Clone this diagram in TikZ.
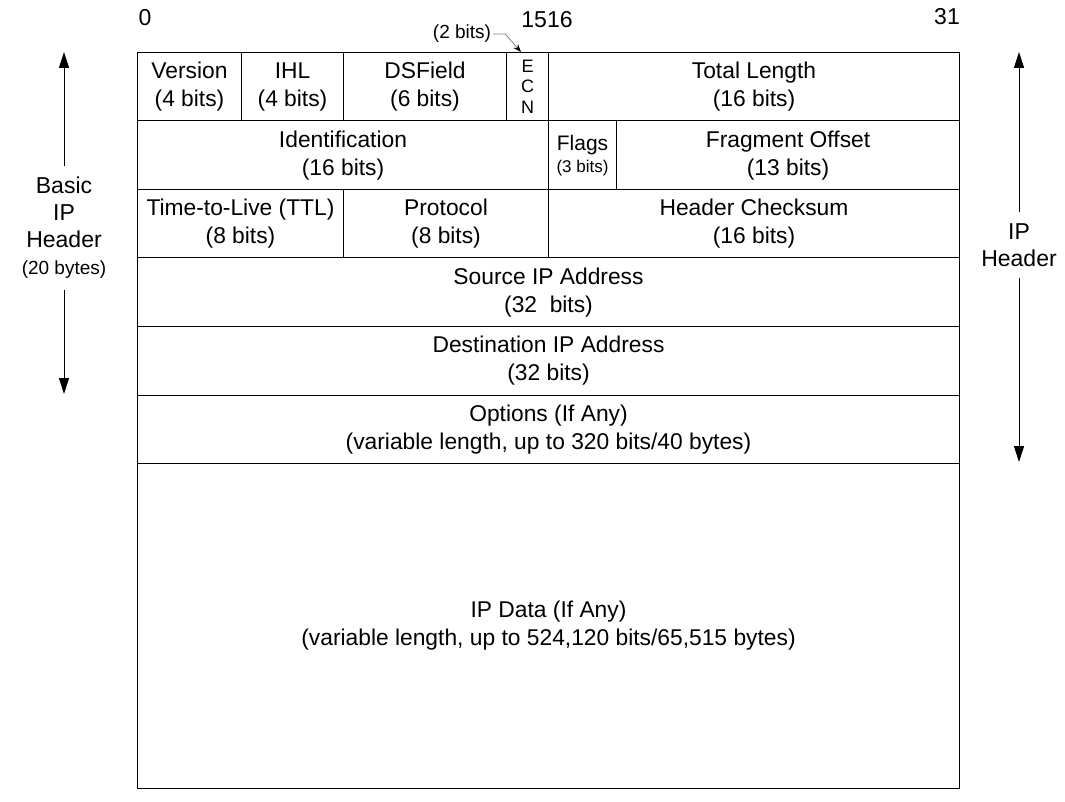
\documentclass[tikz,border=0pt]{standalone}
\usepackage{fontspec}
\setmainfont{Liberation Sans}
\usetikzlibrary{arrows.meta}
\begin{document}
\begin{tikzpicture}[x=1pt,y=-1pt,
  field/.style={draw, line width=1pt, inner sep=0pt, align=center,
    font=\fontsize{22.8}{28}\selectfont, anchor=north west, minimum height=68.5pt},
  lbl/.style={inner sep=0pt, font=\fontsize{23}{26}\selectfont},
  side/.style={inner xsep=0pt, inner ysep=11pt, align=center, font=\fontsize{23}{27}\selectfont},
  bigarr/.style={line width=1pt, -{Triangle[length=16pt,width=10pt]}},
  note/.style={draw=gray, line width=0.8pt, -{Stealth[length=8pt,width=6pt,color=black]}}
]
\useasboundingbox (0,0) rectangle (1065,802);
% bit labels
\node[lbl] (b0) at (145,18) {0};
\node[lbl] (b1516) at (547,20) {1516};
\node[lbl] (b31) at (947,17) {31};
% row 1
\node[field, minimum width=104pt] (ver) at (137,52) {Version\\(4 bits)};
\node[field, minimum width=102pt] (ihl) at (241,52) {IHL\\(4 bits)};
\node[field, minimum width=163pt] (dsf) at (343,52) {DSField\\(6 bits)};
\node[field, minimum width=42pt, font=\fontsize{18}{20.5}\selectfont] (ecn) at (506,52) {E\\C\\N};
\node[field, minimum width=411pt] (tl) at (548,52) {Total Length\\(16 bits)};
% row 2
\node[field, minimum width=411pt] (id) at (137,120.5) {Identification\\(16 bits)};
\node[field, minimum width=68pt, font=\fontsize{21}{22}\selectfont] (flags) at (548,120.5) {Flags\\{\fontsize{17}{18}\selectfont (3 bits)}};
\node[field, minimum width=343pt] (frag) at (616,120.5) {Fragment Offset\\(13 bits)};
% row 3
\node[field, minimum width=206pt] (ttl) at (137,189) {Time-to-Live (TTL)\\(8 bits)};
\node[field, minimum width=205pt] (proto) at (343,189) {Protocol\\(8 bits)};
\node[field, minimum width=411pt] (chk) at (548,189) {Header Checksum\\(16 bits)};
% rows 4-7
\node[field, minimum width=822pt] (src) at (137,257.5) {Source IP Address\\(32~ bits)};
\node[field, minimum width=822pt] (dst) at (137,326) {Destination IP Address\\(32 bits)};
\node[field, minimum width=822pt] (opt) at (137,394.5) {Options (If Any)\\(variable length, up to 320 bits/40 bytes)};
\node[field, minimum width=822pt, minimum height=325pt] (data) at (137,463) {IP Data (If Any)\\(variable length, up to 524,120 bits/65,515 bytes)};
% 2 bits note
\node[inner sep=2pt, font=\fontsize{19}{20}\selectfont] (twobits) at (462,34) {(2 bits)};
\coordinate (ecntip) at (521,52);
\draw[note] (twobits.east) -- ++(12,0) -- (ecntip);
% left side
\node[side] (basic) at (64,228) {Basic\\IP\\Header\\{\fontsize{19}{20}\selectfont (20 bytes)}};
\coordinate (lt) at (64,52);
\coordinate (lb) at (64,394);
\draw[bigarr] (basic.north) -- (lt);
\draw[bigarr] (basic.south) -- (lb);
% right side
\node[side] (iph) at (1019,245) {IP\\Header};
\coordinate (rt) at (1019,52);
\coordinate (rb) at (1019,462);
\draw[bigarr] (iph.north) -- (rt);
\draw[bigarr] (iph.south) -- (rb);
\end{tikzpicture}
\end{document}
